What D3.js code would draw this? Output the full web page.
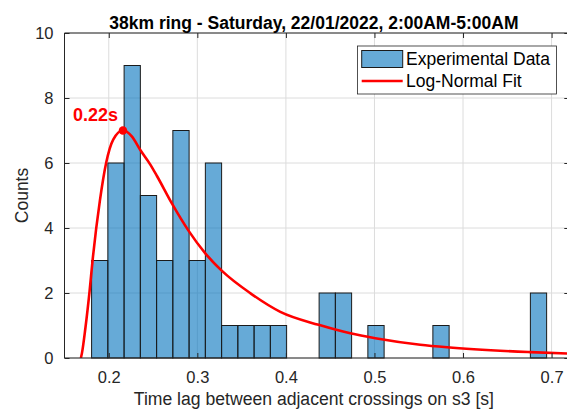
<!DOCTYPE html>
<html>
<head>
<meta charset="utf-8">
<script src="https://cdn.jsdelivr.net/npm/d3@7"></script>
<style>
  html, body { margin: 0; padding: 0; background: #fff; }
  svg { display: block; font-family: "Liberation Sans", Arial, Helvetica, sans-serif; }
</style>
</head>
<body>
<svg id="chart" width="567" height="409"></svg>
<script>
// ---- data ----
const titleText = "38km ring - Saturday, 22/01/2022, 2:00AM-5:00AM";
const xLabelText = "Time lag between adjacent crossings on s3 [s]";
const yLabelText = "Counts";
const binStart = 0.1806;
const binWidth = 0.01835;
const binCounts = [3, 6, 9, 5, 3, 7, 3, 6, 1, 1, 1, 1, 0, 0, 2, 2, 0, 1, 0, 0, 0, 1, 0, 0, 0, 0, 0, 2];
const fitX = [0.1685, 0.1697, 0.1735, 0.1783, 0.1817, 0.19, 0.197, 0.205, 0.216, 0.226, 0.2356, 0.2469, 0.2544, 0.2714, 0.290, 0.309, 0.3278, 0.36, 0.3937, 0.437, 0.4727, 0.501, 0.5517, 0.582, 0.676, 0.725];
const fitY = [0, 0.15, 0.9, 2.05, 3.0, 4.85, 6.0, 6.72, 7.0, 6.82, 6.4, 5.95, 5.6, 4.75, 3.92, 3.22, 2.68, 1.99, 1.42, 1.02, 0.76, 0.61, 0.41, 0.33, 0.18, 0.13];
const peakX = 0.216, peakY = 7.0, peakLabel = "0.22s";
const xTicks = [0.2, 0.3, 0.4, 0.5, 0.6, 0.7];
const yTicks = [0, 2, 4, 6, 8, 10];
const xDomain = [0.15, 0.72];
const yDomain = [0, 10];
const legendLabels = ["Experimental Data", "Log-Normal Fit"];

// ---- layout ----
const svg = d3.select("#chart");
const L = 64.5, R = 569.3, T = 33, B = 358;
const x = d3.scaleLinear().domain(xDomain).range([L, R]);
const y = d3.scaleLinear().domain(yDomain).range([B, T]);
const axisColor = "#262626";
const barFill = "#0072BD";

svg.append("defs").append("clipPath").attr("id", "clip")
  .append("rect").attr("x", L).attr("y", T).attr("width", R - L).attr("height", B - T);

// grid
const grid = svg.append("g");
grid.selectAll("line.gx").data(xTicks).join("line")
  .attr("x1", d => x(d)).attr("x2", d => x(d)).attr("y1", T).attr("y2", B)
  .attr("stroke", "#dcdcdc").attr("stroke-width", 1);
grid.selectAll("line.gy").data(yTicks).join("line")
  .attr("x1", L).attr("x2", R).attr("y1", d => y(d)).attr("y2", d => y(d))
  .attr("stroke", "#dcdcdc").attr("stroke-width", 1);

// bars
const bins = binCounts.map((c, i) => ({ x0: binStart + i * binWidth, x1: binStart + (i + 1) * binWidth, c }));
svg.append("g").selectAll("rect").data(bins.filter(b => b.c > 0)).join("rect")
  .attr("x", d => x(d.x0)).attr("width", d => x(d.x1) - x(d.x0))
  .attr("y", d => y(d.c)).attr("height", d => y(0) - y(d.c))
  .attr("fill", barFill).attr("fill-opacity", 0.6)
  .attr("stroke", "#1a1a1a").attr("stroke-width", 1);

// fit curve
const fitData = fitX.map((v, i) => [v, fitY[i]]);
svg.append("path").datum(fitData)
  .attr("clip-path", "url(#clip)")
  .attr("d", d3.line().x(d => x(d[0])).y(d => y(d[1])).curve(d3.curveMonotoneX))
  .attr("fill", "none").attr("stroke", "#ff0000").attr("stroke-width", 2.6);

svg.append("circle").attr("cx", x(peakX)).attr("cy", y(peakY)).attr("r", 4.2).attr("fill", "#ff0000");
svg.append("text").attr("x", x(peakX) - 50).attr("y", y(peakY) - 9.5)
  .attr("font-size", 18).attr("font-weight", "bold").attr("fill", "#ff0000").text(peakLabel);

// axes box
const ax = svg.append("g").attr("stroke", axisColor).attr("stroke-width", 1).attr("fill", "none");
ax.append("line").attr("x1", L).attr("x2", R).attr("y1", B).attr("y2", B);
ax.append("line").attr("x1", L).attr("x2", R).attr("y1", T).attr("y2", T);
ax.append("line").attr("x1", L).attr("x2", L).attr("y1", T).attr("y2", B);
ax.append("line").attr("x1", R).attr("x2", R).attr("y1", T).attr("y2", B);

// ticks via d3 axes
const tl = 5;
const xAxisB = d3.axisBottom(x).tickValues(xTicks).tickSizeInner(-tl).tickSizeOuter(0).tickPadding(10).tickFormat(d3.format(".1f"));
const gxb = svg.append("g").attr("transform", `translate(0,${B})`).call(xAxisB);
const xAxisT = d3.axisTop(x).tickValues(xTicks).tickSizeInner(-tl).tickSizeOuter(0).tickFormat("");
const gxt = svg.append("g").attr("transform", `translate(0,${T})`).call(xAxisT);
const yAxisL = d3.axisLeft(y).tickValues(yTicks).tickSizeInner(-tl).tickSizeOuter(0).tickPadding(11).tickFormat(d3.format("d"));
const gyl = svg.append("g").attr("transform", `translate(${L},0)`).call(yAxisL);
const yAxisR = d3.axisRight(y).tickValues(yTicks).tickSizeInner(-tl).tickSizeOuter(0).tickFormat("");
const gyr = svg.append("g").attr("transform", `translate(${R},0)`).call(yAxisR);
[gxb, gxt, gyl, gyr].forEach(g => {
  g.select(".domain").remove();
  g.selectAll(".tick line").attr("stroke", axisColor);
  g.selectAll("text").attr("font-family", "Liberation Sans, Arial, sans-serif").attr("font-size", 16.5).attr("fill", axisColor);
});
gxb.selectAll("text").attr("dy", "0.92em");

// labels
svg.append("text").attr("x", (L + R) / 2 - 3).attr("y", 29).attr("text-anchor", "middle")
  .attr("font-size", 17.5).attr("font-weight", "bold").attr("fill", "#000").text(titleText);
svg.append("text").attr("x", (L + R) / 2 - 3).attr("y", 404.5).attr("text-anchor", "middle")
  .attr("font-size", 17.6).attr("fill", axisColor).text(xLabelText);
svg.append("text").attr("transform", `translate(28,${(T + B) / 2}) rotate(-90)`).attr("text-anchor", "middle")
  .attr("font-size", 17.5).attr("fill", axisColor).text(yLabelText);

// legend
const lg = svg.append("g");
lg.append("rect").attr("x", 357.5).attr("y", 46).attr("width", 199).attr("height", 48)
  .attr("fill", "#fff").attr("stroke", axisColor).attr("stroke-width", 0.8);
lg.append("rect").attr("x", 361.7).attr("y", 50.5).attr("width", 41).attr("height", 17)
  .attr("fill", barFill).attr("fill-opacity", 0.6).attr("stroke", "#1a1a1a").attr("stroke-width", 1);
lg.append("line").attr("x1", 361.7).attr("x2", 402.7).attr("y1", 81).attr("y2", 81)
  .attr("stroke", "#ff0000").attr("stroke-width", 2.6);
lg.append("text").attr("x", 406).attr("y", 59).attr("dy", "0.35em").attr("font-size", 17.5).attr("fill", "#000").text(legendLabels[0]);
lg.append("text").attr("x", 406).attr("y", 81).attr("dy", "0.35em").attr("font-size", 17.5).attr("fill", "#000").text(legendLabels[1]);
</script>
</body>
</html>
